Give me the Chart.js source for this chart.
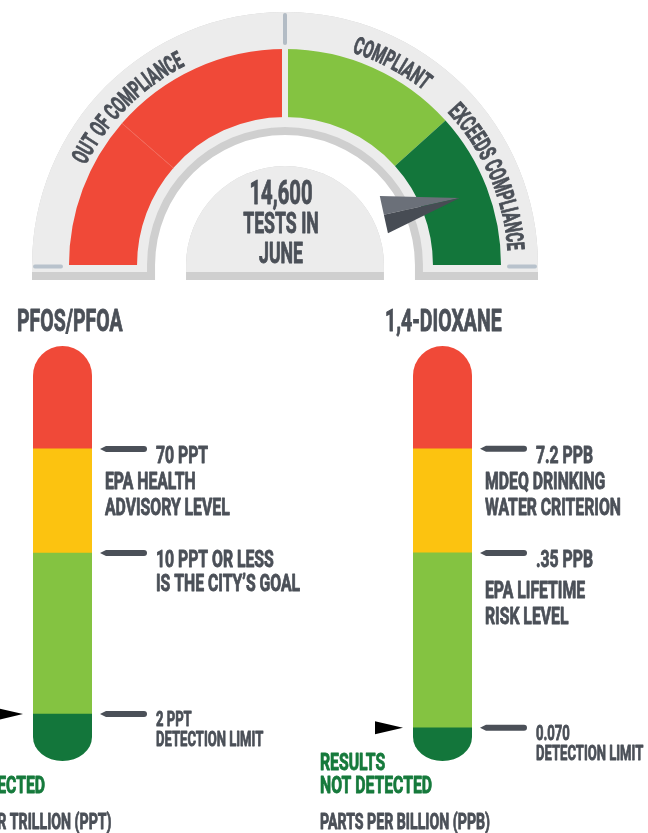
<!DOCTYPE html>
<html>
<head>
<meta charset="utf-8">
<title>Water testing results</title>
<script src="https://cdn.jsdelivr.net/npm/chart.js@4.4.1/dist/chart.umd.min.js"></script>
<style>
  html, body { margin: 0; padding: 0; background: #fff; }
  #page { position: relative; width: 648px; height: 833px; overflow: hidden; }
  canvas { position: absolute; }
  #gauge { left: 0; top: 0; }
  #pfos { left: 0; top: 290px; }
  #diox { left: 300px; top: 290px; }
</style>
</head>
<body>
<div id="page">
  <canvas id="gauge" width="648" height="290"></canvas>
  <canvas id="pfos" width="300" height="543"></canvas>
  <canvas id="diox" width="348" height="543"></canvas>
</div>
<script>
// gauge zones, left to right, in degrees of the half circle
const gaugeZones = ['Out of compliance', 'Out of compliance', 'Compliant', 'Exceeds compliance'];
const gaugeSpan = [41, 49, 48, 42];
const gaugeLabels = ['OUT OF COMPLIANCE', 'COMPLIANT', 'EXCEEDS COMPLIANCE'];
const needleAt = 159;
const testsText = ['14,600', 'TESTS IN', 'JUNE'];

// thermometer bands, bottom to top, as % of the tube
const bandNames = ['Not detected', 'Goal', 'Advisory', 'Above advisory'];
const pfosBands = [11.3, 38.8, 25.1, 24.8];
const dioxBands = [8.0, 42.2, 25.1, 24.8];
const pfosNotes = [['2 PPT', 'DETECTION LIMIT'], ['10 PPT OR LESS', 'IS THE CITY’S GOAL'], ['70 PPT', 'EPA HEALTH', 'ADVISORY LEVEL']];
const dioxNotes = [['0.070', 'DETECTION LIMIT'], ['.35 PPB', 'EPA LIFETIME', 'RISK LEVEL'], ['7.2 PPB', 'MDEQ DRINKING', 'WATER CRITERION']];
const resultText = ['RESULTS', 'NOT DETECTED'];

const RED = '#f04938', YELLOW = '#fcc310', LIGHT = '#84c341', DARK = '#13763b';
const INK = '#4b5058', GREEN_TXT = '#167a3c';
const SX = 0.66; // squeeze to fake a condensed face

function txt(ctx, s, x, top, cap, color, align, sx) {
    sx = sx || SX;
    const px = cap / 0.711;
    ctx.save();
    ctx.font = '700 ' + px + 'px Roboto';
    ctx.fillStyle = color;
    ctx.strokeStyle = color;
    ctx.lineWidth = 0.9;
    ctx.lineJoin = 'round';
    const w = ctx.measureText(s).width * sx;
    ctx.translate(align === 'center' ? x - w / 2 : x, top + cap);
    ctx.scale(sx, 1);
    ctx.fillText(s, 0, 0);
    ctx.strokeText(s, 0, 0);
    ctx.restore();
}

function arcText(ctx, s, cx, cy, r, midDeg, cap, color) {
    const sx = 0.6;
    ctx.save();
    ctx.font = '700 ' + (cap / 0.711) + 'px Roboto';
    ctx.fillStyle = color;
    ctx.strokeStyle = color;
    ctx.lineWidth = 0.9;
    ctx.textAlign = 'center';
    const chars = [...s];
    const widths = chars.map(c => ctx.measureText(c).width * sx);
    const total = widths.reduce((a, b) => a + b, 0);
    let a = midDeg * Math.PI / 180 + total / 2 / r;
    chars.forEach((c, i) => {
        const mid = a - widths[i] / 2 / r;
        ctx.save();
        ctx.translate(cx + r * Math.cos(mid), cy - r * Math.sin(mid));
        ctx.rotate(Math.PI / 2 - mid);
        ctx.scale(sx, 1);
        ctx.fillText(c, 0, 0);
        ctx.strokeText(c, 0, 0);
        ctx.restore();
        a -= widths[i] / r;
    });
    ctx.restore();
}

function arch(ctx, cx, cy, ro, ri, drop, color) {
    ctx.beginPath();
    ctx.moveTo(cx - ro, cy + drop);
    ctx.lineTo(cx - ro, cy);
    ctx.arc(cx, cy, ro, Math.PI, 0);
    ctx.lineTo(cx + ro, cy + drop);
    if (ri > 0) {
        ctx.lineTo(cx + ri, cy + drop);
        ctx.lineTo(cx + ri, cy);
        ctx.arc(cx, cy, ri, 0, Math.PI, true);
        ctx.lineTo(cx - ri, cy + drop);
    }
    ctx.closePath();
    ctx.fillStyle = color;
    ctx.fill();
}

function stroke(ctx, x0, y0, x1, y1, w, color, cap) {
    ctx.beginPath();
    ctx.moveTo(x0, y0);
    ctx.lineTo(x1, y1);
    ctx.lineWidth = w;
    ctx.strokeStyle = color;
    ctx.lineCap = cap || 'butt';
    ctx.stroke();
}

const gaugeDeco = {
    id: 'gaugeDeco',
    beforeDatasetsDraw(chart) {
        const arc = chart.getDatasetMeta(0).data[0];
        const ctx = chart.ctx, cx = arc.x, cy = arc.y;
        const ro = arc.outerRadius + 37, ri = arc.innerRadius - 10, dome = arc.innerRadius - 49;
        ctx.save();
        arch(ctx, cx, cy, ro, ri - 8, 15, '#cfcfcf');
        arch(ctx, cx, cy, ro, ri, 7, '#ececec');
        arch(ctx, cx, cy, dome, 0, 15, '#cfcfcf');
        arch(ctx, cx, cy, dome, 0, 7, '#ececec');
        ctx.restore();
    },
    afterDatasetsDraw(chart) {
        const arcs = chart.getDatasetMeta(0).data;
        const ctx = chart.ctx, cx = arcs[0].x, cy = arcs[0].y;
        const R = arcs[0].outerRadius, r = arcs[0].innerRadius, ro = R + 37;
        ctx.save();
        // faint split inside the red zone
        let a = arcs[0].endAngle;
        stroke(ctx, cx + r * Math.cos(a), cy + r * Math.sin(a), cx + R * Math.cos(a), cy + R * Math.sin(a), 1, '#f36a5b');
        // gap + tick between red and green
        a = arcs[1].endAngle;
        stroke(ctx, cx + (r - 1) * Math.cos(a), cy + (r - 1) * Math.sin(a), cx + (R + 1) * Math.cos(a), cy + (R + 1) * Math.sin(a), 6, '#ececec');
        stroke(ctx, cx + (R + 6) * Math.cos(a), cy + (R + 6) * Math.sin(a), cx + (R + 34) * Math.cos(a), cy + (R + 34) * Math.sin(a), 4, '#b3bcc5', 'round');
        // base dashes
        stroke(ctx, cx - ro + 3, cy + 1.5, cx - ro + 29, cy + 1.5, 4, '#b8c2cc', 'round');
        stroke(ctx, cx + ro - 29, cy + 1.5, cx + ro - 3, cy + 1.5, 4, '#b8c2cc', 'round');
        // zone labels along the rim
        const labelAngles = [135, 62, 23.5];
        gaugeLabels.forEach((s, i) => arcText(ctx, s, cx, cy, R + 7, labelAngles[i], 17, INK));
        // needle
        const th = (1 - needleAt / 180) * Math.PI, bth = th + 6 * Math.PI / 180;
        const tip = [cx + (R - 29) * Math.cos(th), cy - (R - 29) * Math.sin(th)];
        const base = [cx + (r - 37) * Math.cos(bth), cy - (r - 37) * Math.sin(bth)];
        const len = Math.hypot(tip[0] - base[0], tip[1] - base[1]);
        const d = [(tip[0] - base[0]) / len, (tip[1] - base[1]) / len];
        const up = [base[0] + 19 * d[1], base[1] - 19 * d[0]];
        const dn = [base[0] - 19 * d[1], base[1] + 19 * d[0]];
        ctx.beginPath(); ctx.moveTo(...up); ctx.lineTo(...tip); ctx.lineTo(...base); ctx.closePath();
        ctx.fillStyle = '#6b7079'; ctx.fill();
        ctx.beginPath(); ctx.moveTo(...base); ctx.lineTo(...tip); ctx.lineTo(...dn); ctx.closePath();
        ctx.fillStyle = '#474c54'; ctx.fill();
        // center text
        txt(ctx, testsText[0], cx - 4, cy - 85, 24, INK, 'center', 0.6);
        txt(ctx, testsText[1], cx - 4, cy - 53, 21, INK, 'center', 0.6);
        txt(ctx, testsText[2], cx - 4, cy - 23, 21, INK, 'center', 0.6);
        ctx.restore();
    }
};

new Chart(document.getElementById('gauge'), {
    type: 'doughnut',
    data: {
        labels: gaugeZones,
        datasets: [{
            data: gaugeSpan,
            backgroundColor: [RED, RED, LIGHT, DARK],
            borderWidth: 0
        }]
    },
    options: {
        responsive: false,
        animation: false,
        events: [],
        rotation: -90,
        circumference: 180,
        cutout: '68.5%',
        layout: { padding: { left: 69, right: 147, top: 49, bottom: 25 } },
        plugins: { legend: { display: false }, tooltip: { enabled: false } }
    },
    plugins: [gaugeDeco]
});

const thermoDeco = {
    id: 'thermoDeco',
    beforeDatasetsDraw(chart) {
        const bar = chart.getDatasetMeta(0).data[0], y = chart.scales.y, ctx = chart.ctx;
        const top = y.getPixelForValue(y.max), bottom = y.getPixelForValue(0);
        const r = bar.width / 2, ry = 24;
        ctx.save();
        ctx.beginPath();
        ctx.moveTo(bar.x - r, top + r);
        ctx.arc(bar.x, top + r, r, Math.PI, 0);
        ctx.lineTo(bar.x + r, bottom - ry);
        ctx.ellipse(bar.x, bottom - ry, r, ry, 0, 0, Math.PI);
        ctx.closePath();
        ctx.clip();
    },
    afterDatasetsDraw(chart, args, opts) {
        const ctx = chart.ctx;
        ctx.restore();
        const bar = chart.getDatasetMeta(0).data[0], y = chart.scales.y;
        const left = bar.x - bar.width / 2, right = bar.x + bar.width / 2;
        const top = y.getPixelForValue(y.max), bottom = y.getPixelForValue(0);
        ctx.save();
        txt(ctx, opts.title, left + opts.titleX, top - 37, 22, INK, 'left', 0.63);
        let level = 0;
        opts.notes.forEach((lines, i) => {
            level += opts.bands[i];
            const py = y.getPixelForValue(level);
            const x0 = right + 8, x1 = right + 55, h = 3;
            ctx.beginPath();
            ctx.moveTo(x0, py);
            ctx.lineTo(x0 + 6, py - h);
            ctx.lineTo(x1 - h, py - h);
            ctx.arc(x1 - h, py, h, -Math.PI / 2, Math.PI / 2);
            ctx.lineTo(x0 + 6, py + h);
            ctx.closePath();
            ctx.fillStyle = INK;
            ctx.fill();
            const small = i === 0, cap = small ? 15 : 17, sx = small ? 0.62 : SX;
            txt(ctx, lines[0], right + 64, py - 3, cap, INK, 'left', sx);
            lines.slice(1).forEach((s, k) => {
                const tx = opts.tuck[i] ? right + 13 : right + 64;
                txt(ctx, s, tx, py + (small ? 17 : 23) + opts.gap[i] + k * 26, cap, INK, 'left', sx);
            });
        });
        // result arrow at the detection level
        const ay = y.getPixelForValue(opts.bands[0]), tip = left - 10;
        ctx.beginPath();
        ctx.moveTo(tip, ay);
        ctx.lineTo(tip - 28, ay - 6.5);
        ctx.lineTo(tip - 28, ay + 6.5);
        ctx.closePath();
        ctx.fillStyle = '#000';
        ctx.fill();
        txt(ctx, resultText[0], left + opts.textX, bottom - 8, 17, GREEN_TXT);
        txt(ctx, resultText[1], left + opts.textX, bottom + 15, 17, GREEN_TXT);
        txt(ctx, opts.unit, left + opts.textX, bottom + 52, 16, INK, 'left', 0.63);
        ctx.restore();
    }
};

function thermo(id, bands, notes, tuck, gap, title, unit, pad, titleX, textX) {
    const colors = [DARK, LIGHT, YELLOW, RED];
    new Chart(document.getElementById(id), {
        type: 'bar',
        data: {
            labels: [title],
            datasets: bandNames.map((name, i) => ({
                label: name,
                data: [bands[i]],
                backgroundColor: colors[i],
                borderWidth: 0,
                barThickness: 59
            }))
        },
        options: {
            responsive: false,
            animation: false,
            events: [],
            layout: { padding: pad },
            scales: {
                x: { display: false, stacked: true },
                y: { display: false, stacked: true, min: 0, max: bands.reduce((a, b) => a + b, 0) }
            },
            plugins: {
                legend: { display: false },
                tooltip: { enabled: false },
                thermoDeco: { bands, notes, tuck, gap, title, unit, titleX, textX }
            }
        },
        plugins: [thermoDeco]
    });
}

thermo('pfos', pfosBands, pfosNotes, [false, false, true], [0, -2, 0], 'PFOS/PFOA', 'PARTS PER TRILLION (PPT)',
    { left: 2.5, right: 177.5, top: 56, bottom: 72 }, -16, -100);
thermo('diox', dioxBands, dioxNotes, [false, true, true], [0, 5, 0], '1,4-DIOXANE', 'PARTS PER BILLION (PPB)',
    { left: 82.5, right: 145.5, top: 56, bottom: 72 }, -28, -93);
</script>
</body>
</html>
